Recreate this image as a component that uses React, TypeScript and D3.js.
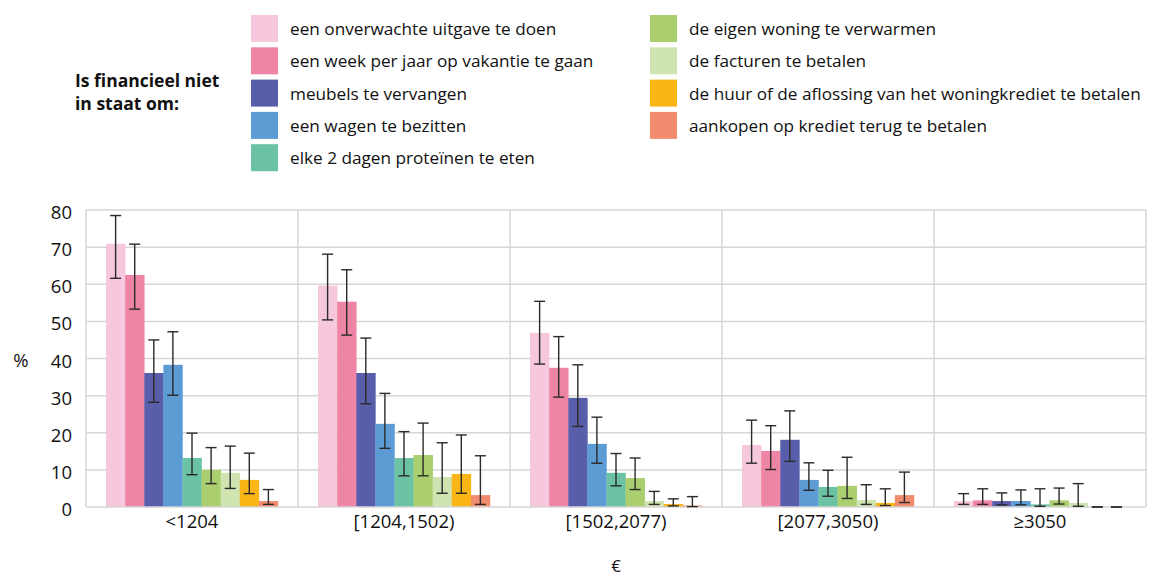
import React from "react";
import { scaleBand, scaleLinear } from "d3";

// groepen (inkomen, €)
const categories = ["<1204", "[1204,1502)", "[1502,2077)", "[2077,3050)", "≥3050"];

const seriesNames = [
  "een onverwachte uitgave te doen",
  "een week per jaar op vakantie te gaan",
  "meubels te vervangen",
  "een wagen te bezitten",
  "elke 2 dagen proteïnen te eten",
  "de eigen woning te verwarmen",
  "de facturen te betalen",
  "de huur of de aflossing van het woningkrediet te betalen",
  "aankopen op krediet terug te betalen",
];

const seriesColors = [
  "#f7c7dd", "#ee85a5", "#585ea9", "#5d9bd5", "#6bc2a4",
  "#abcf6f", "#d0e4b1", "#fbb616", "#f28c6f",
];

// waarden per reeks, één per groep
const values = [
  [70.9, 59.6, 46.9, 16.7, 1.6],
  [62.5, 55.3, 37.5, 15.1, 1.8],
  [36.1, 36.1, 29.4, 18.1, 1.6],
  [38.3, 22.4, 17.0, 7.3, 1.6],
  [13.2, 13.2, 9.2, 5.4, 0.7],
  [10.0, 14.0, 7.8, 5.7, 1.8],
  [9.2, 8.1, 1.6, 1.9, 1.1],
  [7.3, 8.9, 0.8, 1.1, 0],
  [1.6, 3.2, 0.4, 3.2, 0],
];

const lower = [
  [61.6, 50.4, 38.5, 11.8, 0.7],
  [53.3, 46.3, 29.6, 10.1, 0.7],
  [28.2, 27.8, 21.7, 12.3, 0.6],
  [30.1, 15.8, 11.8, 4.5, 0.6],
  [8.7, 8.4, 5.7, 2.9, 0.2],
  [6.3, 8.4, 4.7, 2.3, 0.8],
  [5.0, 3.7, 0.7, 0.7, 0.2],
  [3.6, 3.7, 0.3, 0.4, 0],
  [0.7, 0.7, 0.1, 1.2, 0],
];

const upper = [
  [78.5, 68.1, 55.4, 23.4, 3.6],
  [70.8, 63.9, 45.9, 21.9, 4.9],
  [45.0, 45.5, 38.3, 25.9, 3.8],
  [47.2, 30.6, 24.2, 11.9, 4.6],
  [19.9, 20.3, 14.4, 9.9, 4.9],
  [16.0, 22.6, 13.2, 13.4, 5.1],
  [16.4, 17.3, 4.2, 6.0, 6.3],
  [14.5, 19.4, 2.2, 4.9, 0],
  [4.7, 13.8, 2.8, 9.4, 0],
];

const yTicks = [0, 10, 20, 30, 40, 50, 60, 70, 80];

const W = 1168;
const H = 576;
const FONT = "'Open Sans', 'Noto Sans', sans-serif";

export default function App() {
  const plot = { left: 86, right: 1146, top: 210, bottom: 507 };

  const x0 = scaleBand<string>()
    .domain(categories)
    .range([plot.left, plot.right])
    .padding(0);

  const x1 = scaleBand<number>()
    .domain(seriesNames.map((_, i) => i))
    .range([0, x0.bandwidth()])
    .paddingInner(0)
    .paddingOuter(1.05);

  const y = scaleLinear().domain([0, 80]).range([plot.bottom, plot.top]);

  const gridColor = "#d6d6d6";
  const capW = 11;

  return (
    <svg
      width={W}
      height={H}
      style={{ position: "absolute", left: 0, top: 0, background: "#fff" }}
      fontFamily={FONT}
    >
      {/* legenda titel */}
      <text x={75} y={87} fontSize={17.5} fontWeight={700} fill="#111">Is financieel niet</text>
      <text x={75} y={110} fontSize={17.5} fontWeight={700} fill="#111">in staat om:</text>

      {/* legenda */}
      {seriesNames.map((name, i) => {
        const col = i < 5 ? 0 : 1;
        const row = i < 5 ? i : i - 5;
        const lx = col === 0 ? 251 : 650;
        const ly = 15 + row * 32.3;
        return (
          <g key={name}>
            <rect x={lx} y={ly} width={27} height={27} fill={seriesColors[i]} />
            <text x={lx + 39} y={ly + 20} fontSize={17.2} fill="#111">{name}</text>
          </g>
        );
      })}

      {/* raster */}
      {yTicks.slice(1).map((t) => (
        <line key={t} x1={plot.left} x2={plot.right} y1={y(t)} y2={y(t)} stroke={gridColor} strokeWidth={1.5} />
      ))}
      {categories.map((c) => (
        <line key={c} x1={x0(c)!} x2={x0(c)!} y1={plot.top} y2={plot.bottom} stroke={gridColor} strokeWidth={1.5} />
      ))}
      <line x1={plot.right} x2={plot.right} y1={plot.top} y2={plot.bottom} stroke={gridColor} strokeWidth={1.5} />

      {/* staven */}
      {categories.map((c, gi) =>
        seriesNames.map((_, si) => {
          const v = values[si][gi];
          const bx = x0(c)! + x1(si)!;
          return (
            <rect
              key={`${c}-${si}`}
              x={bx}
              y={y(v)}
              width={x1.bandwidth() + 0.3}
              height={y(0) - y(v)}
              fill={seriesColors[si]}
            />
          );
        })
      )}

      {/* x-as lijn */}
      <line x1={plot.left} x2={plot.right} y1={plot.bottom} y2={plot.bottom} stroke={gridColor} strokeWidth={1.5} />

      {/* foutbalken */}
      {categories.map((c, gi) =>
        seriesNames.map((_, si) => {
          const cx = x0(c)! + x1(si)! + x1.bandwidth() / 2;
          const lo = y(lower[si][gi]);
          const hi = y(upper[si][gi]);
          return (
            <g key={`e-${c}-${si}`} stroke="#2a2a2a" strokeWidth={1.4}>
              <line x1={cx} x2={cx} y1={hi} y2={lo} />
              <line x1={cx - capW / 2} x2={cx + capW / 2} y1={hi} y2={hi} />
              <line x1={cx - capW / 2} x2={cx + capW / 2} y1={lo} y2={lo} />
            </g>
          );
        })
      )}

      {/* y-as labels */}
      {yTicks.map((t) => (
        <text key={t} x={72} y={y(t) + 9} textAnchor="end" fontSize={18.5} fill="#111">
          {t}
        </text>
      ))}
      <text x={21} y={367} textAnchor="middle" fontSize={18.5} fill="#111">%</text>

      {/* x-as labels */}
      {categories.map((c) => (
        <text key={c} x={x0(c)! + x0.bandwidth() / 2} y={528} textAnchor="middle" fontSize={18.5} fill="#111">
          {c}
        </text>
      ))}
      <text x={(plot.left + plot.right) / 2} y={572} textAnchor="middle" fontSize={17} fill="#111">€</text>
    </svg>
  );
}
